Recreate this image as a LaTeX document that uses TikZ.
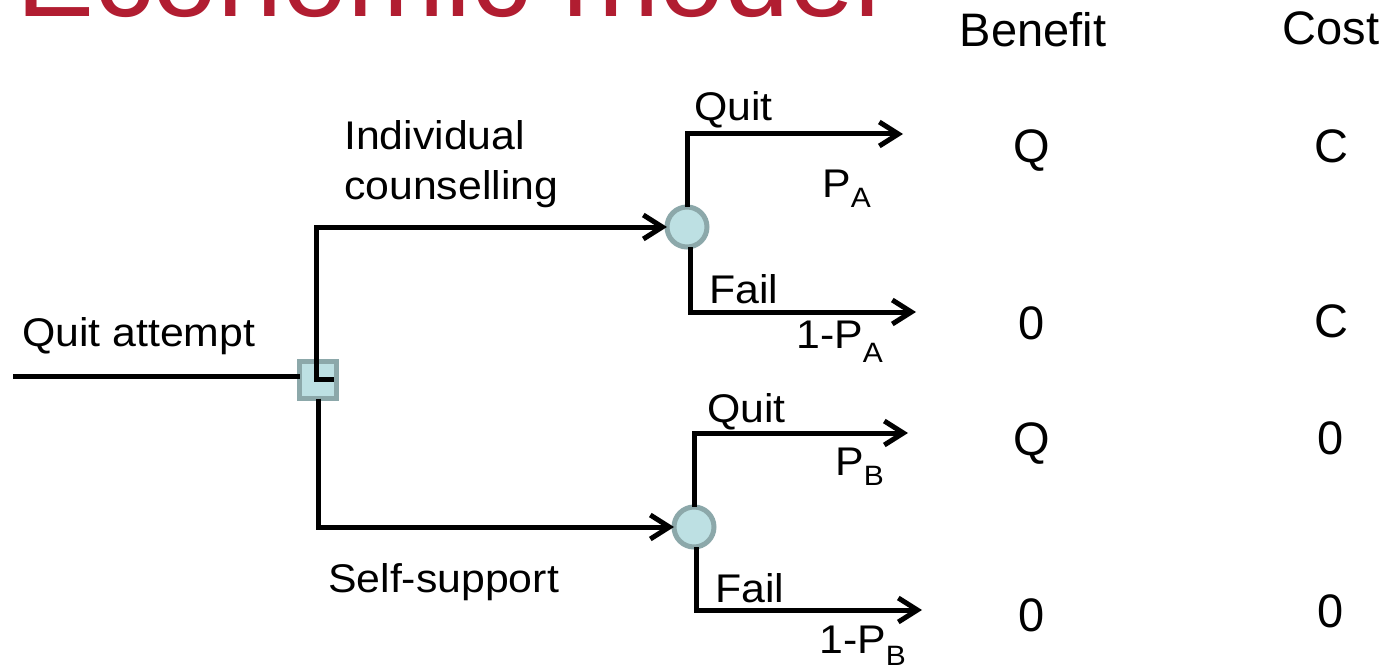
\documentclass[tikz,border=0pt]{standalone}
\usepackage{fontspec}
\usetikzlibrary{arrows.meta}
\setmainfont{Liberation Sans}
\newfontfamily\lblfamily[FakeStretch=1.07]{Liberation Sans}
\newfontfamily\valfamily{Liberation Sans}
\newcommand\lblfont{\lblfamily\fontsize{40}{50}\selectfont}
\newcommand\valfont{\valfamily\fontsize{47}{56}\selectfont}
\newcommand\titlefont{\valfamily\fontsize{117}{130}\selectfont}
\newcommand\lowsub[2][12pt]{\raisebox{-#1}{\fontsize{28}{28}\selectfont #2}}
\definecolor{titlered}{RGB}{177,29,49}
\definecolor{nodefill}{RGB}{189,224,227}
\definecolor{nodeline}{RGB}{140,168,170}
\tikzset{
  conn/.style={line width=5pt, line join=miter},
  arr/.style={conn, -{Straight Barb[length=19pt,width=24pt]}},
  chance/.style={circle, fill=nodefill, draw=nodeline, line width=5pt, minimum size=40pt, inner sep=0pt},
  decision/.style={rectangle, fill=nodefill, draw=nodeline, line width=5.5pt, minimum size=37pt, inner sep=0pt},
  lbl/.style={font=\lblfont, inner sep=0pt, anchor=base west},
  val/.style={font=\valfont, inner sep=0pt, anchor=base},
}
\begin{document}
\begin{tikzpicture}[x=1pt,y=-1pt]
\useasboundingbox (0,0) rectangle (1385,666);
\clip (0,0) rectangle (1385,666);
\fill[white] (0,0) rectangle (1385,666);

% title
\node[font=\titlefont, text=titlered, inner sep=0pt, anchor=base west] (title) at (16,17) {Economic model};

% nodes
\node[decision, outer sep=0pt] (sq) at (318,380) {};
\node[chance, outer sep=0pt] (cA) at (687,227) {};
\node[chance, outer sep=0pt] (cB) at (694,527) {};

% coordinates for free ends
\coordinate (start) at (13,376);
\coordinate (sqin) at (334,379);
\coordinate (upbend) at (316,379);
\coordinate (endAQ) at (903,134);
\coordinate (endAF) at (916,312);
\coordinate (endBQ) at (908,433);
\coordinate (endBF) at (922,610);

% connectors
\draw[conn] (start) -- (start -| sq.west);
\draw[arr] (sqin) -- (upbend) |- (cA.west);
\draw[arr] (sq.south) |- (cB.west);
\draw[arr] (cA.north) |- (endAQ);
\draw[arr] ([xshift=3pt]cA.south) |- (endAF);
\draw[arr] (cB.north) |- (endBQ);
\draw[arr] ([xshift=2.5pt]cB.south) |- (endBF);

% labels
\node[lbl] (lqa) at (22,346) {Quit attempt};
\node[lbl, align=left] (lind) at (344,200) {Individual\\counselling};
\node[lbl] (lself) at (328,592) {Self-support};
\node[lbl] (lqA) at (694,121) {Quit};
\node[lbl] (lfA) at (709,303) {Fail};
\node[lbl] (lqB) at (707,422) {Quit};
\node[lbl] (lfB) at (715,602) {Fail};
\node[lbl] (pA) at (822,197) {P\lowsub[10pt]{A}};
\node[lbl] (npA) at (796,348) {1-P\lowsub[14pt]{A}};
\node[lbl] (pB) at (835,475) {P\lowsub[10pt]{B}};
\node[lbl] (npB) at (819,653) {1-P\lowsub[12pt]{B}};

% value columns
\node[val] (hBen) at (1033,47) {Benefit};
\node[val] (hCost) at (1331,45) {Cost};
\node[val] (b1) at (1032,163) {Q};
\node[val] (c1) at (1331,163) {C};
\node[val] (b2) at (1032,339) {0};
\node[val] (c2) at (1331,337) {C};
\node[val] (b3) at (1032,455) {Q};
\node[val] (c3) at (1331,454) {0};
\node[val] (b4) at (1032,631) {0};
\node[val] (c4) at (1331,627) {0};
\end{tikzpicture}
\end{document}
